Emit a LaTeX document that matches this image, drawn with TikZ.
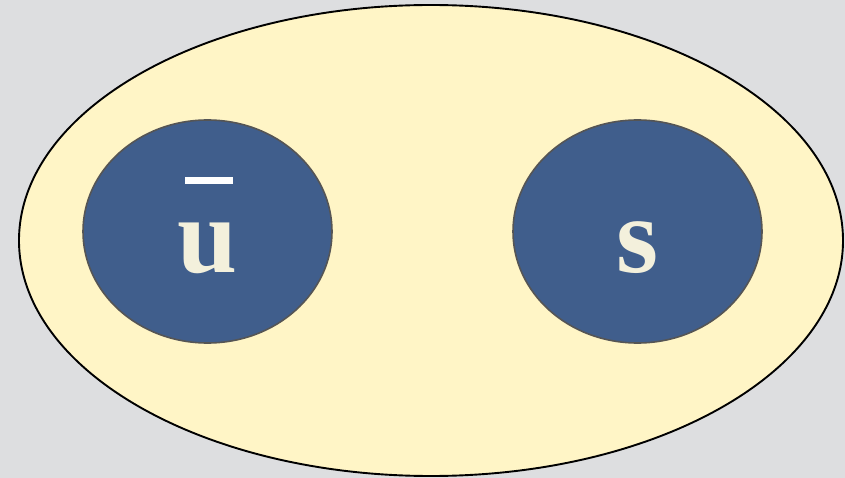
\documentclass[tikz,border=0pt]{standalone}
\usepackage{fontspec}
\setmainfont{Liberation Serif}
\definecolor{bg}{HTML}{DDDEE0}
\definecolor{outer}{HTML}{FFF5C6}
\definecolor{disk}{HTML}{405E8C}
\definecolor{rim}{HTML}{555555}
\definecolor{letter}{HTML}{F3F0DC}
\tikzset{
  diskshape/.style={draw=rim, line width=1.6pt, fill=disk},
  lettertext/.style={anchor=base, text=letter, font=\fontsize{108}{108}\selectfont\bfseries, inner sep=0pt}
}
\begin{document}
\begin{tikzpicture}[x=1pt,y=-1pt]
\fill[bg] (0,0) rectangle (845,478);
\useasboundingbox (0,0) rectangle (845,478);
\draw[fill=outer, line width=1.9pt] (431,240.5) ellipse [x radius=412, y radius=235.5];
\draw[diskshape] (207.5,231.5) ellipse [x radius=124.5, y radius=111.5];
\draw[diskshape] (637.5,231.5) ellipse [x radius=124.5, y radius=111.5];
\node[lettertext] (u) at (208,272.5) {u};
\fill[white] (185,177) rectangle (233,184);
\node[lettertext] (s) at (638,272.5) {s};
\end{tikzpicture}
\end{document}
